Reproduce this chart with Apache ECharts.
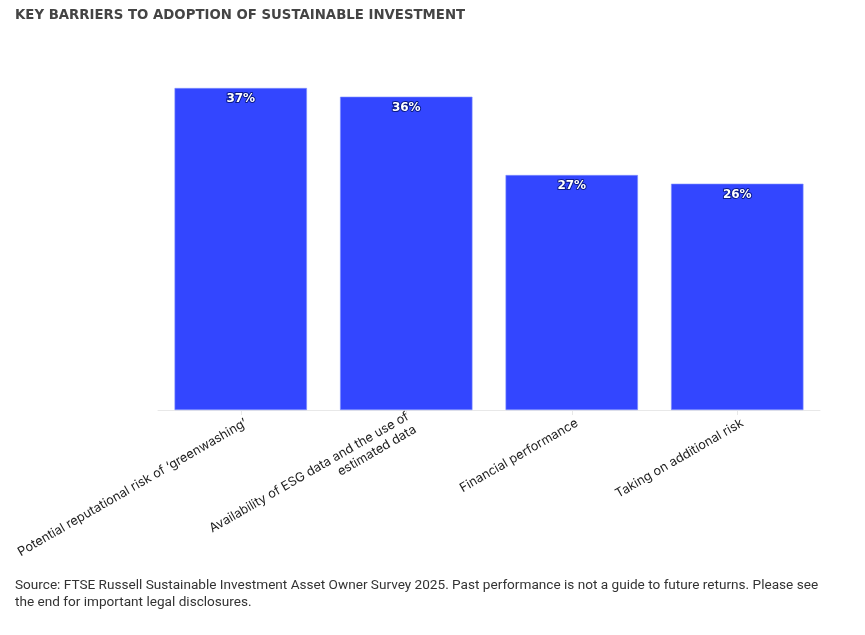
<!DOCTYPE html>
<html>
<head>
<meta charset="utf-8">
<script src="https://cdn.jsdelivr.net/npm/echarts@6/dist/echarts.min.js"></script>
<style>
html,body{margin:0;padding:0;background:#fff;}
#c{width:865px;height:635px;}
</style>
</head>
<body>
<div id="c"></div>
<script>
const categories = [
  "Potential reputational risk of \u2018greenwashing\u2019",
  "Availability of ESG data and the use of\nestimated data",
  "Financial performance",
  "Taking on additional risk"
];
const values = [37, 36, 27, 26];
const titleText = "KEY BARRIERS TO ADOPTION OF SUSTAINABLE INVESTMENT";
const sourceText = "Source: FTSE Russell Sustainable Investment Asset Owner Survey 2025. Past performance is not a guide to future returns. Please see\nthe end for important legal disclosures.";

const chart = echarts.init(document.getElementById('c'), null, {renderer: 'canvas'});
chart.setOption({
  animation: false,
  backgroundColor: '#ffffff',
  title: [{
    text: titleText,
    left: 10, top: 4,
    textStyle: {fontFamily: 'DejaVu Sans', fontWeight: 'bold', fontSize: 13.3, color: '#444444'}
  }, {
    text: sourceText,
    left: 10, top: 572,
    textStyle: {fontFamily: 'Roboto', fontWeight: 'normal', fontSize: 13.6, color: '#333333', lineHeight: 17}
  }],
  grid: {left: 158, right: 45, top: 88, bottom: 225, containLabel: false},
  xAxis: {
    type: 'category',
    data: categories,
    axisLine: {lineStyle: {color: '#e8e8e8', width: 1}},
    axisTick: {show: true, alignWithLabel: true, length: 5, lineStyle: {color: '#e8e8e8'}},
    axisLabel: {
      rotate: 30, interval: 0, margin: 15,
      padding: [0, -6, 0, 0],
      fontFamily: 'Inter', fontSize: 12.7, color: '#222222', lineHeight: 15
    }
  },
  yAxis: {type: 'value', min: 0, max: 37, show: false, splitLine: {show: false}},
  series: [{
    type: 'bar',
    data: values,
    barWidth: '80%',
    itemStyle: {color: '#3346ff', borderColor: '#8090ff', borderWidth: 0.6},
    label: {
      show: true, position: 'insideTop', distance: 5,
      formatter: '{c}%',
      fontFamily: 'DejaVu Sans', fontWeight: 'bold', fontSize: 12,
      color: '#ffffff', textBorderColor: '#0a1a8a', textBorderWidth: 2
    }
  }]
});
</script>
</body>
</html>
